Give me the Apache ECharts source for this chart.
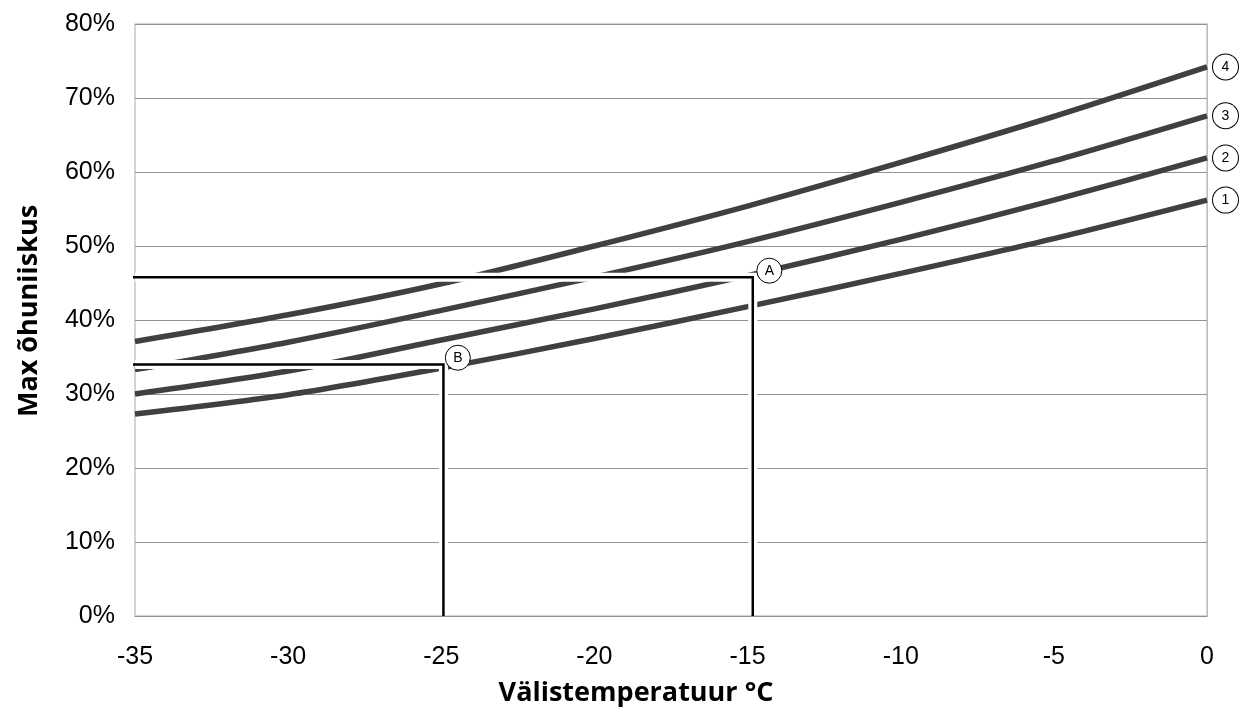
<!DOCTYPE html>
<html>
<head>
<meta charset="utf-8">
<script src="https://cdn.jsdelivr.net/npm/echarts@6/dist/echarts.min.js"></script>
<style>
  html, body { margin: 0; padding: 0; background: #fff; }
  #chart { width: 1242px; height: 717px; }
</style>
</head>
<body>
<div id="chart"></div>
<script>
// ---- data ----
const temps = [-35, -30, -25, -20, -15, -10, -5, 0];
const curve1 = [27.3, 29.9, 33.5, 37.5, 41.8, 46.3, 51.0, 56.2];
const curve2 = [30.0, 33.1, 37.3, 41.5, 46.0, 50.9, 56.2, 61.9];
const curve3 = [33.3, 37.0, 41.3, 45.8, 50.6, 55.9, 61.5, 67.6];
const curve4 = [37.1, 40.7, 44.9, 50.0, 55.4, 61.3, 67.5, 74.2];
const curveNames = ['1', '2', '3', '4'];

// reference guide lines (temperature, humidity)
const guideA = { t: -14.83, h: 45.77, start: -35.2 };
const guideB = { t: -24.93, h: 34.0, start: -35.33 };
// marker circles
const markerNames = ['A', 'B'];
const markerT = [-14.29, -24.46];
const markerH = [46.66, 34.9];

const xTicks = { min: -35, max: 0, interval: 5 };
const yTicks = { min: 0, max: 80, interval: 10 };

// ---- build ----
const font = "'Liberation Sans', Arial, sans-serif";
const curveSeries = [curve1, curve2, curve3, curve4].map((vals, i) => ({
  name: curveNames[i],
  type: 'line',
  data: temps.map((t, j) => [t, vals[j]]),
  smooth: 0.3,
  showSymbol: false,
  silent: true,
  z: 2,
  lineStyle: { color: '#404040', width: 5.5 },
  endLabel: {
    show: true,
    distance: 6,
    formatter: '{c|' + curveNames[i] + '}',
    rich: {
      c: {
        width: 25, height: 25, lineHeight: 25, align: 'center',
        backgroundColor: '#fff', borderColor: '#000', borderWidth: 1, borderRadius: 13,
        fontFamily: font, fontSize: 14, color: '#000'
      }
    }
  }
}));

function guidePath(g, fromT) {
  return [[fromT, g.h], [g.t, g.h], [g.t, 0]];
}
function guideSeries(g) {
  return [
    {
      type: 'line', data: [[-35, g.h], [g.t, g.h], [g.t, 0.2]], showSymbol: false, silent: true,
      z: 3, clip: false, lineStyle: { color: '#fff', width: 9, cap: 'butt', join: 'miter' }
    },
    {
      type: 'line', data: guidePath(g, g.start), showSymbol: false, silent: true,
      z: 4, clip: false, lineStyle: { color: '#000', width: 2.5, cap: 'butt', join: 'miter' }
    }
  ];
}

const option = {
  animation: false,
  backgroundColor: '#fff',
  grid: {
    left: 135, right: 35, top: 24, bottom: 101,
    show: true, borderColor: '#a8a8a8', borderWidth: 1, backgroundColor: 'transparent'
  },
  xAxis: {
    type: 'value', min: xTicks.min, max: xTicks.max, interval: xTicks.interval,
    name: 'Välistemperatuur °C', nameLocation: 'middle', nameGap: 64,
    nameTextStyle: { fontFamily: "'Open Sans', sans-serif", fontWeight: 'bold', fontSize: 27, color: '#000', padding: [0, 70, 0, 0] },
    axisLine: { show: true, lineStyle: { color: '#929292' } },
    axisTick: { show: false },
    splitLine: { show: false },
    axisLabel: { fontFamily: font, fontSize: 25, color: '#000', margin: 29 }
  },
  yAxis: {
    type: 'value', min: yTicks.min, max: yTicks.max, interval: yTicks.interval,
    name: 'Max õhuniiskus', nameLocation: 'middle', nameGap: 92,
    nameTextStyle: { fontFamily: "'Open Sans', sans-serif", fontWeight: 'bold', fontSize: 27, color: '#000', padding: [0, 0, 0, 18] },
    axisLine: { show: true, lineStyle: { color: '#bdbdbd' } },
    axisTick: { show: false },
    splitLine: { show: true, lineStyle: { color: '#929292', width: 1 } },
    axisLabel: { fontFamily: font, fontSize: 25, color: '#000', margin: 20, formatter: '{value}%' }
  },
  series: [
    ...curveSeries,
    ...guideSeries(guideA),
    ...guideSeries(guideB),
    {
      type: 'scatter',
      z: 5,
      silent: true,
      symbol: 'circle',
      symbolSize: 25,
      data: markerNames.map((n, i) => ({ name: n, value: [markerT[i], markerH[i]] })),
      itemStyle: { color: '#fff', borderColor: '#000', borderWidth: 1, opacity: 1 },
      label: { show: true, position: 'inside', formatter: '{b}', fontFamily: font, fontSize: 14, color: '#000' }
    }
  ]
};

const chart = echarts.init(document.getElementById('chart'), null, { renderer: 'canvas' });
chart.setOption(option);
</script>
</body>
</html>
